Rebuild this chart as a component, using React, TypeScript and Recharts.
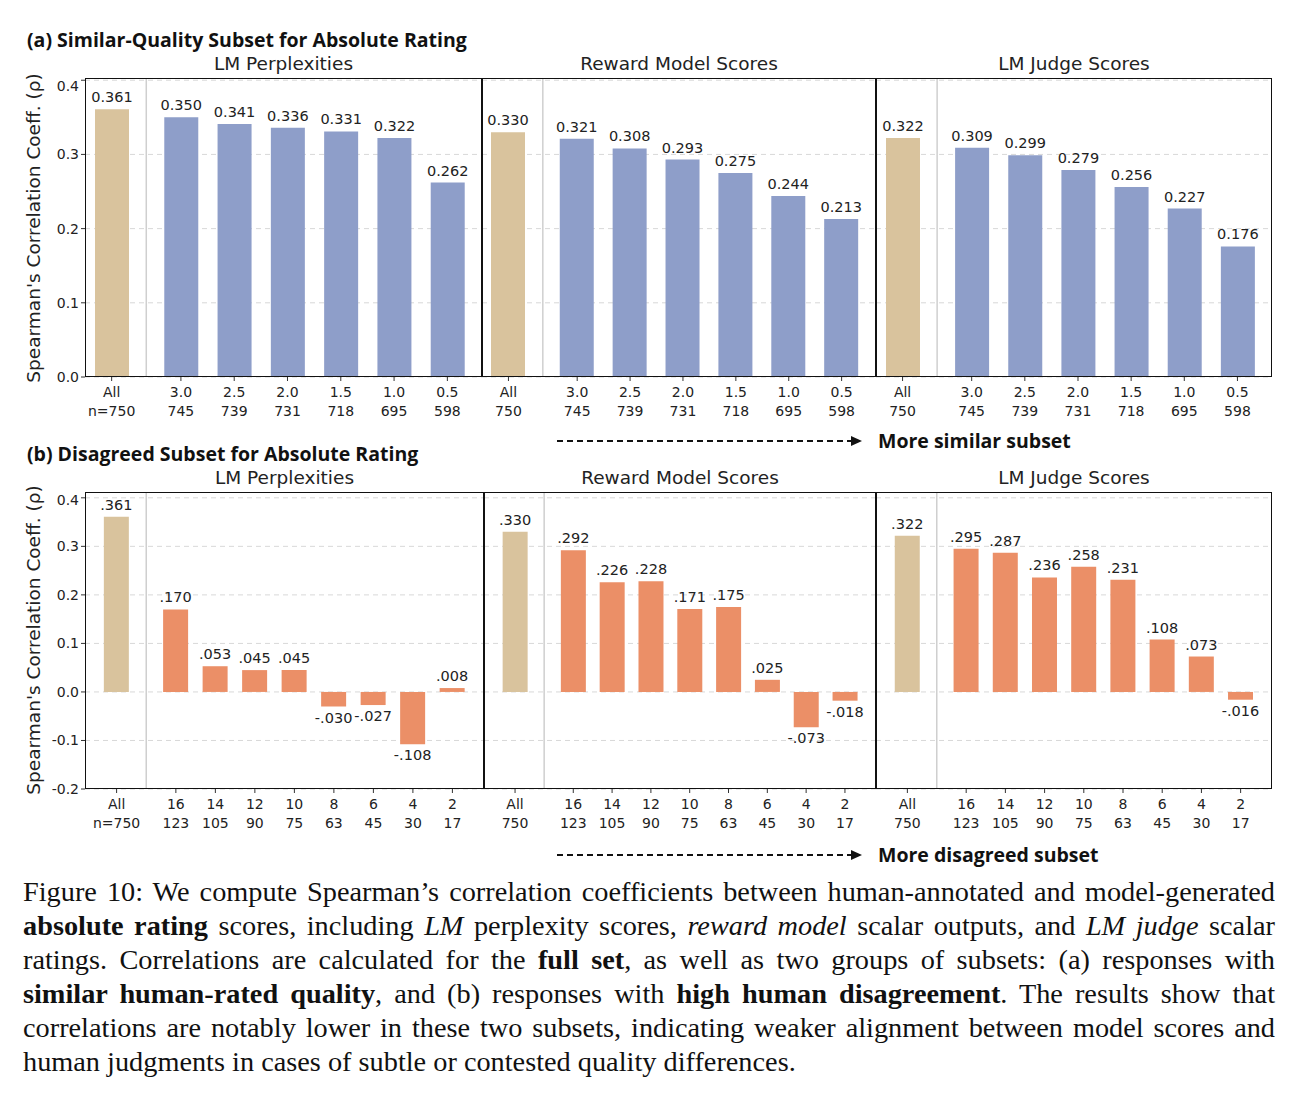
import React from "react"
import { BarChart, Bar, XAxis, YAxis, CartesianGrid, Cell, LabelList, ReferenceLine } from "recharts"

const topCats = ["All", "3.0", "2.5", "2.0", "1.5", "1.0", "0.5"]
const topN = ["750", "745", "739", "731", "718", "695", "598"]
const topPpl = [0.361, 0.35, 0.341, 0.336, 0.331, 0.322, 0.262]
const topRm = [0.33, 0.321, 0.308, 0.293, 0.275, 0.244, 0.213]
const topJudge = [0.322, 0.309, 0.299, 0.279, 0.256, 0.227, 0.176]

const botCats = ["All", "16", "14", "12", "10", "8", "6", "4", "2"]
const botN = ["750", "123", "105", "90", "75", "63", "45", "30", "17"]
const botPpl = [0.361, 0.17, 0.053, 0.045, 0.045, -0.03, -0.027, -0.108, 0.008]
const botRm = [0.33, 0.292, 0.226, 0.228, 0.171, 0.175, 0.025, -0.073, -0.018]
const botJudge = [0.322, 0.295, 0.287, 0.236, 0.258, 0.231, 0.108, 0.073, -0.016]

const panelTitles = ["LM Perplexities", "Reward Model Scores", "LM Judge Scores"]

const TAN = "#d9c39d"
const BLUE = "#8e9ec9"
const ORANGE = "#eb8f67"
const FONT = "DejaVu Sans"
const XH = 48

const fmtTop = (v: number) => v.toFixed(3)
const fmtBot = (v: number) => (v < 0 ? "-" : "") + Math.abs(v).toFixed(3).replace(/^0/, "")

type PanelProps = {
  left: number
  top: number
  width: number
  height: number
  cats: string[]
  ns: string[]
  values: number[]
  firstN: string
  color: string
  domain: [number, number]
  yTicks: number[]
  showY: boolean
  gap: number
  pad: [number, number]
  barSize: number
  fmt: (v: number) => string
  title: string
}

function Panel(p: PanelProps) {
  const data = p.values.map((v, i) => ({ x: i === 0 ? 0 : i - 1 + p.gap, v, i }))
  const xs = data.map((d) => d.x)
  const yw = p.showY ? 45 : 0
  const tick = (props: any) => {
    const idx = xs.indexOf(props.payload.value)
    return (
      <g>
        <text x={props.x} y={props.y + 14} textAnchor="middle" fontSize={14} fill="#222" fontFamily={FONT}>
          {p.cats[idx]}
        </text>
        <text x={props.x} y={props.y + 33} textAnchor="middle" fontSize={14} fill="#222" fontFamily={FONT}>
          {idx === 0 ? p.firstN : p.ns[idx]}
        </text>
      </g>
    )
  }
  const label = (props: any) => {
    const { x, y, width, height, value } = props
    const t = Math.min(y, y + height)
    const b = Math.max(y, y + height)
    return (
      <text x={x + width / 2} y={value >= 0 ? t - 7 : b + 16} textAnchor="middle" fontSize={14.5} fill="#222" fontFamily={FONT}>
        {p.fmt(value)}
      </text>
    )
  }
  return (
    <div style={{ position: "absolute", left: p.left - yw, top: p.top }}>
      <BarChart width={p.width + yw} height={p.height + XH} data={data} margin={{ top: 0, right: 0, bottom: 0, left: 0 }}>
        <CartesianGrid vertical={false} strokeDasharray="5 4" stroke="#d8d8d8" />
        <XAxis
          dataKey="x"
          type="number"
          domain={[-p.pad[0], xs[xs.length - 1] + p.pad[1]]}
          ticks={xs}
          tick={tick}
          height={XH}
          axisLine={false}
          tickLine={{ stroke: "#333" }}
          tickSize={4}
          interval={0}
        />
        <YAxis
          type="number"
          domain={p.domain}
          ticks={p.yTicks}
          hide={!p.showY}
          width={yw}
          tickFormatter={(v: number) => v.toFixed(1)}
          tick={{ fontSize: 14, fill: "#222", fontFamily: FONT }}
          axisLine={false}
          tickLine={{ stroke: "#333" }}
          tickSize={4}
          allowDataOverflow
        />
        <ReferenceLine x={p.gap / 2} stroke="#cfcfcf" strokeWidth={1.5} />
        <Bar dataKey="v" barSize={p.barSize} isAnimationActive={false}>
          {data.map((d) => (
            <Cell key={d.i} fill={d.i === 0 ? TAN : p.color} />
          ))}
          <LabelList dataKey="v" content={label} />
        </Bar>
      </BarChart>
      <div
        style={{
          position: "absolute",
          left: yw,
          top: 0,
          width: p.width,
          height: p.height,
          border: "1.5px solid #111",
          boxSizing: "border-box",
          pointerEvents: "none",
        }}
      />
      <div
        style={{
          position: "absolute",
          left: yw,
          top: -25,
          width: p.width,
          textAlign: "center",
          fontFamily: FONT,
          fontSize: 18.5,
          color: "#222",
        }}
      >
        {p.title}
      </div>
    </div>
  )
}

const lefts = [85, 482, 876]
const widths = [397, 394, 396]
const botLefts = [85, 484, 876]
const botWidths = [399, 392, 396]

function Arrow({ x1, x2, y }: { x1: number; x2: number; y: number }) {
  return (
    <svg style={{ position: "absolute", left: 0, top: 0 }} width={1296} height={1102} pointerEvents="none">
      <line x1={x1} y1={y} x2={x2 - 10} y2={y} stroke="#111" strokeWidth={2} strokeDasharray="6 4" />
      <polygon points={`${x2},${y} ${x2 - 11},${y - 5} ${x2 - 11},${y + 5}`} fill="#111" />
    </svg>
  )
}

const yLabel: React.CSSProperties = {
  position: "absolute",
  left: 33,
  transform: "translate(-50%, -50%) rotate(-90deg)",
  fontFamily: FONT,
  fontSize: 18.5,
  color: "#222",
  whiteSpace: "nowrap",
}

export default function App() {
  const topVals = [topPpl, topRm, topJudge]
  const botVals = [botPpl, botRm, botJudge]
  const bold: React.CSSProperties = { fontFamily: "Open Sans", fontWeight: 700, fontSize: 19.5, color: "#111", position: "absolute" }
  return (
    <div style={{ position: "absolute", left: 0, top: 0, width: 1296, height: 1102, background: "#fff" }}>
      <div style={{ ...bold, left: 27, top: 26 }}>(a) Similar-Quality Subset for Absolute Rating</div>
      <div style={{ ...bold, left: 27, top: 440 }}>(b) Disagreed Subset for Absolute Rating</div>
      {topVals.map((vals, k) => (
        <Panel
          key={"t" + k}
          left={lefts[k]}
          top={78}
          width={widths[k]}
          height={299}
          cats={topCats}
          ns={topN}
          firstN={k === 0 ? "n=750" : "750"}
          values={vals}
          color={BLUE}
          domain={[0, 0.403]}
          yTicks={[0, 0.1, 0.2, 0.3, 0.4]}
          showY={k === 0}
          gap={1.3}
          pad={[0.5, 0.65]}
          barSize={34}
          fmt={fmtTop}
          title={panelTitles[k]}
        />
      ))}
      {botVals.map((vals, k) => (
        <Panel
          key={"b" + k}
          left={botLefts[k]}
          top={492}
          width={botWidths[k]}
          height={297}
          cats={botCats}
          ns={botN}
          firstN={k === 0 ? "n=750" : "750"}
          values={vals}
          color={ORANGE}
          domain={[-0.2, 0.412]}
          yTicks={[-0.2, -0.1, 0, 0.1, 0.2, 0.3, 0.4]}
          showY={k === 0}
          gap={1.5}
          pad={[0.8, 0.8]}
          barSize={25}
          fmt={fmtBot}
          title={panelTitles[k]}
        />
      ))}
      <div style={{ ...yLabel, top: 228 }}>Spearman's Correlation Coeff. (ρ)</div>
      <div style={{ ...yLabel, top: 640 }}>Spearman's Correlation Coeff. (ρ)</div>
      <Arrow x1={557} x2={862} y={441} />
      <div style={{ ...bold, left: 878, top: 427 }}>More similar subset</div>
      <Arrow x1={557} x2={862} y={855} />
      <div style={{ ...bold, left: 878, top: 841 }}>More disagreed subset</div>
      <div
        style={{
          position: "absolute",
          left: 23,
          top: 875,
          width: 1252,
          fontFamily: "Liberation Serif",
          fontSize: 28.3,
          lineHeight: "34px",
          textAlign: "justify",
          color: "#111",
        }}
      >
        Figure 10: We compute Spearman’s correlation coefficients between human-annotated and model-generated{" "}
        <b>absolute rating</b> scores, including <i>LM</i> perplexity scores, <i>reward model</i> scalar outputs, and{" "}
        <i>LM judge</i> scalar ratings. Correlations are calculated for the <b>full set</b>, as well as two groups of
        subsets: (a) responses with <b>similar human-rated quality</b>, and (b) responses with{" "}
        <b>high human disagreement</b>. The results show that correlations are notably lower in these two subsets,
        indicating weaker alignment between model scores and human judgments in cases of subtle or contested quality
        differences.
      </div>
    </div>
  )
}
